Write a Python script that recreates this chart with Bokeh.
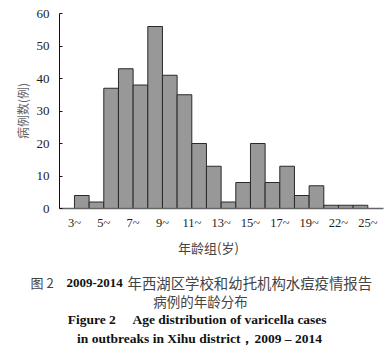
from bokeh.plotting import figure
from bokeh.layouts import column
from bokeh.models import Range1d, FixedTicker, SingleIntervalTicker, Label
from bokeh.embed import file_html
from bokeh.resources import INLINE

# ---- data ----
tick_labels = ["3~", "5~", "7~", "9~", "11~", "13~", "15~", "17~", "19~", "22~", "25~"]
cases = [4, 2, 37, 43, 38, 56, 41, 35, 20, 13, 2, 8, 20, 8, 13, 4, 7, 1, 1, 1]

y_label = "病例数(例)"
x_label = "年龄组(岁)"
cap_fig_cn = "图 2"
cap_years = "2009-2014"
cap_cn_1 = "年西湖区学校和幼托机构水痘疫情报告"
cap_cn_2 = "病例的年龄分布"
cap_en_1 = "Figure 2\u3000 Age distribution of varicella cases"
cap_en_2 = "in outbreaks in Xihu district，2009 – 2014"

SERIF = "Liberation Serif"
CJK = "Noto Sans CJK SC"

W = 390
H1 = 232          # chart canvas height
H2 = 352 - H1     # caption canvas height
FL, FT, FB = 59, 13, 209

p = figure(width=W, height=H1, output_backend="svg", toolbar_location=None,
           x_range=Range1d(-1.02, 21.07), y_range=Range1d(0, 60),
           min_border_left=FL, min_border_right=W - 383, min_border_top=FT,
           min_border_bottom=H1 - FB)
p.frame_align = False
p.outline_line_color = None
p.xgrid.visible = False
p.ygrid.visible = False
p.background_fill_color = "white"
p.border_fill_color = "white"

idx = list(range(len(cases)))
p.quad(left=idx, right=[i + 1 for i in idx], bottom=0, top=cases,
       fill_color="#989898", line_color="#2a2a2a", line_width=1)

# x axis
p.xaxis.ticker = FixedTicker(ticks=[2 * k for k in range(len(tick_labels))])
p.xaxis.major_label_overrides = {2 * k: t for k, t in enumerate(tick_labels)}
p.xaxis.major_tick_line_color = None
p.xaxis.minor_tick_line_color = None
p.xaxis.axis_line_color = "#666666"
p.xaxis.axis_line_width = 1.5
p.xaxis.major_label_standoff = 1
p.xaxis.major_label_text_font = SERIF
p.xaxis.major_label_text_font_size = "12.5px"
p.xaxis.major_label_text_color = "#222222"

# y axis
p.yaxis.ticker = SingleIntervalTicker(interval=10)
p.yaxis.minor_tick_line_color = None
p.yaxis.major_tick_in = 3
p.yaxis.major_tick_out = 0
p.yaxis.axis_line_color = "#111111"
p.yaxis.major_tick_line_color = "#111111"
p.yaxis.major_label_standoff = 6
p.yaxis.major_label_text_font = SERIF
p.yaxis.major_label_text_font_size = "13px"
p.yaxis.major_label_text_color = "#222222"
p.yaxis.axis_label = y_label
p.yaxis.axis_label_text_font = CJK
p.yaxis.axis_label_text_font_size = "12px"
p.yaxis.axis_label_text_font_style = "normal"
p.yaxis.axis_label_text_color = "#666666"
p.yaxis.axis_label_standoff = 3

# caption canvas
c = figure(width=W, height=H2, output_backend="svg", toolbar_location=None,
           x_range=Range1d(0, W), y_range=Range1d(0, H2),
           x_axis_location=None, y_axis_location=None,
           min_border_left=0, min_border_right=0, min_border_top=0, min_border_bottom=0)
c.frame_align = False
c.outline_line_color = None
c.xgrid.visible = False
c.ygrid.visible = False
c.background_fill_color = "white"
c.border_fill_color = "white"


def lab(text, X, Y, align="left", font=CJK, size="13px", style="normal", color="#333333"):
    c.add_layout(Label(x=X, y=352 - Y, x_units="screen", y_units="screen",
                       text=text, text_align=align, text_baseline="middle",
                       text_font=font, text_font_size=size, text_font_style=style,
                       text_color=color))


lab(x_label, 208, 247, align="center", size="13px", color="#444444")
lab(cap_fig_cn, 30, 282, size="13px", color="#444444")
lab(cap_years, 66, 282, font=SERIF, size="13px", style="bold", color="#111111")
lab(cap_cn_1, 127, 282, size="14.4px", color="#444444")
lab(cap_cn_2, 200, 300, align="center", size="13.5px", color="#444444")
lab(cap_en_1, 197, 319, align="center", font=SERIF, size="13.5px", style="bold", color="#111111")
lab(cap_en_2, 199, 338, align="center", font=SERIF, size="13.5px", style="bold", color="#111111")

layout = column(p, c, spacing=0)
open("out.html", "w").write(file_html(layout, INLINE))
